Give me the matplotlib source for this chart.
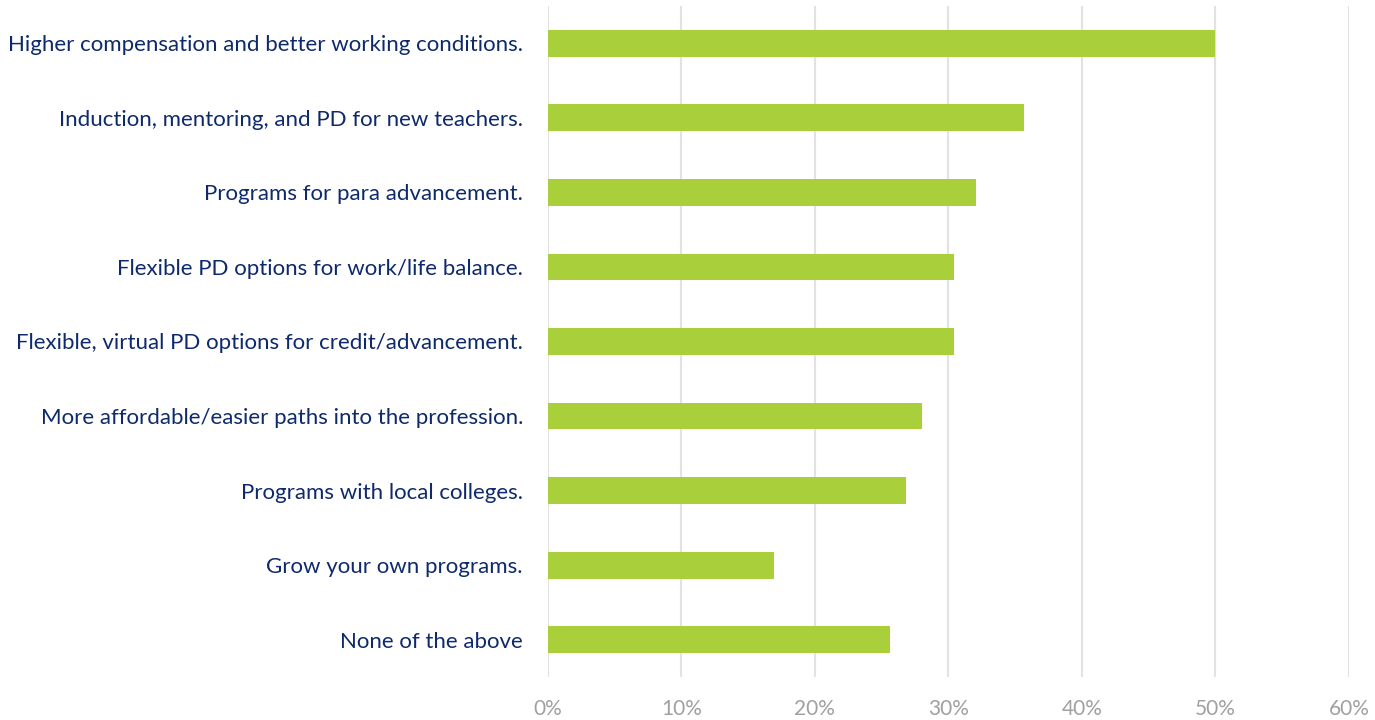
import matplotlib.pyplot as plt
from matplotlib.ticker import PercentFormatter

categories = [
    "Higher compensation and better working conditions.",
    "Induction, mentoring, and PD for new teachers.",
    "Programs for para advancement.",
    "Flexible PD options for work/life balance.",
    "Flexible, virtual PD options for credit/advancement.",
    "More affordable/easier paths into the profession.",
    "Programs with local colleges.",
    "Grow your own programs.",
    "None of the above",
]
values = [50.0, 35.7, 32.1, 30.4, 30.4, 28.0, 26.8, 16.9, 25.6]
x_ticks = [0, 10, 20, 30, 40, 50, 60]

plt.rcParams['font.family'] = ['Lato', 'DejaVu Sans']

fig = plt.figure(figsize=(13.75, 7.2), dpi=100)
ax = fig.add_axes([0.3985, 0.0597, 0.5825, 0.932])

pos = list(range(len(categories)))
ax.barh(pos, values, height=0.36, color="#A9D03A", zorder=3)

ax.set_ylim(len(categories) - 0.5, -0.5)
ax.set_xlim(0, 60)
ax.set_xticks(x_ticks)
ax.xaxis.set_major_formatter(PercentFormatter(decimals=0))
ax.set_yticks(pos)
ax.set_yticklabels(categories)

ax.grid(axis="x", color="#E2E2E2", linewidth=1.5, zorder=0)
for s in ax.spines.values():
    s.set_visible(False)
ax.tick_params(axis="y", length=0, pad=18, labelsize=16, labelcolor="#0E2A6B")
ax.tick_params(axis="x", length=0, pad=16, labelsize=15, labelcolor="#A0A0A0")

fig.savefig("out.png", dpi=100)
